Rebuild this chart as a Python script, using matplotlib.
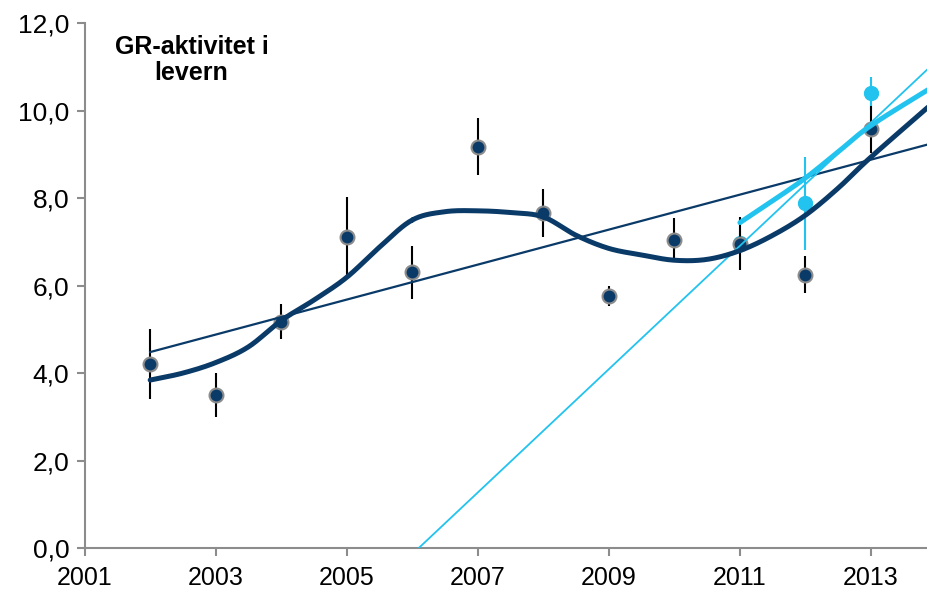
import numpy as np
import matplotlib.pyplot as plt

plt.rcParams['font.family'] = ['Liberation Sans', 'DejaVu Sans']

# measured GR activity per year (dark series) with error
years = [2002, 2003, 2004, 2005, 2006, 2007, 2008, 2009, 2010, 2011, 2012, 2013]
gr_vals = [4.2, 3.5, 5.17, 7.12, 6.3, 9.18, 7.67, 5.77, 7.05, 6.96, 6.25, 9.57]
gr_err = [0.8, 0.5, 0.4, 0.9, 0.6, 0.65, 0.55, 0.23, 0.5, 0.6, 0.42, 0.53]

# recent series (light blue)
new_years = [2011, 2012, 2013]
new_vals = [6.98, 7.88, 10.4]
new_err = [0.2, 1.07, 0.38]

# linear trends: value at a reference year and slope per year
dark_trend = (2002, 4.48, 0.40)
light_trend = (2012, 8.32, 1.41)
dark_trend_span = [2002, 2014]
light_trend_span = [2006.1, 2014]

# smoothed trend curves
dark_curve_x = [2002, 2002.5, 2003, 2003.5, 2004, 2004.5, 2005, 2005.5, 2006, 2006.5,
                2007, 2007.5, 2008, 2008.5, 2009, 2009.5, 2010, 2010.5, 2011, 2011.5,
                2012, 2012.5, 2013, 2014]
dark_curve_y = [3.84, 4.0, 4.24, 4.6, 5.2, 5.67, 6.19, 6.88, 7.5, 7.69,
                7.71, 7.67, 7.57, 7.15, 6.85, 6.7, 6.58, 6.6, 6.8, 7.15,
                7.61, 8.23, 8.94, 10.25]
light_curve_x = [2011, 2011.5, 2012, 2012.5, 2013, 2014]
light_curve_y = [7.44, 7.94, 8.46, 9.06, 9.66, 10.6]

dark = '#0A3A68'
light = '#22C3EE'
grey = '#8C8C8C'


def smooth(xs, ys, n=30):
    # catmull-rom through the given points
    x = np.asarray(xs, float)
    y = np.asarray(ys, float)
    px = np.concatenate([[2 * x[0] - x[1]], x, [2 * x[-1] - x[-2]]])
    py = np.concatenate([[2 * y[0] - y[1]], y, [2 * y[-1] - y[-2]]])
    t = np.linspace(0, 1, n)
    ox, oy = [], []
    for i in range(1, len(px) - 2):
        for p, out in ((px, ox), (py, oy)):
            p0, p1, p2, p3 = p[i - 1], p[i], p[i + 1], p[i + 2]
            out.extend(0.5 * (2 * p1 + (-p0 + p2) * t
                              + (2 * p0 - 5 * p1 + 4 * p2 - p3) * t ** 2
                              + (-p0 + 3 * p1 - 3 * p2 + p3) * t ** 3))
    return ox, oy


fig = plt.figure(figsize=(9.28, 5.95), dpi=100)
ax = fig.add_axes([0.0912, 0.079, 0.9088, 0.882])

ax.errorbar(new_years, new_vals, yerr=new_err, fmt='o', color=light, ms=10,
            elinewidth=1.5, capsize=0, zorder=2)
ax.errorbar(years, gr_vals, yerr=gr_err, fmt='o', color=dark, mfc=dark, mec=grey,
            mew=1.5, ms=10, ecolor='black', elinewidth=1.5, capsize=0, zorder=3)

tx = np.array(dark_trend_span)
ax.plot(tx, dark_trend[1] + dark_trend[2] * (tx - dark_trend[0]), color=dark, lw=1.6, zorder=4)
tx = np.array(light_trend_span)
ax.plot(tx, light_trend[1] + light_trend[2] * (tx - light_trend[0]), color=light, lw=1.3, zorder=4)

cx, cy = smooth(dark_curve_x, dark_curve_y)
ax.plot(cx, cy, color=dark, lw=3.6, solid_capstyle='round', zorder=5)
cx, cy = smooth(light_curve_x, light_curve_y)
ax.plot(cx, cy, color=light, lw=3.6, solid_capstyle='round', zorder=5)

ax.set_xlim(2001, 2013.87)
ax.set_ylim(0, 12)
ax.set_xticks(range(2001, 2014, 2))
ax.set_yticks(range(0, 13, 2))
ax.set_yticklabels([f'{v:.1f}'.replace('.', ',') for v in range(0, 13, 2)])

for side in ['top', 'right']:
    ax.spines[side].set_visible(False)
for side in ['left', 'bottom']:
    ax.spines[side].set_color(grey)
    ax.spines[side].set_linewidth(1.5)
ax.tick_params(axis='both', colors=grey, labelcolor='black', width=1.5, length=6,
               labelsize=18)
ax.tick_params(axis='x', pad=7)
ax.tick_params(axis='y', pad=5, labelsize=19)

ax.text(2002.63, 11.16, 'GR-aktivitet i\nlevern', ha='center', va='center',
        fontsize=18, fontweight='bold', linespacing=1.15)

fig.savefig('out.png', dpi=100)
